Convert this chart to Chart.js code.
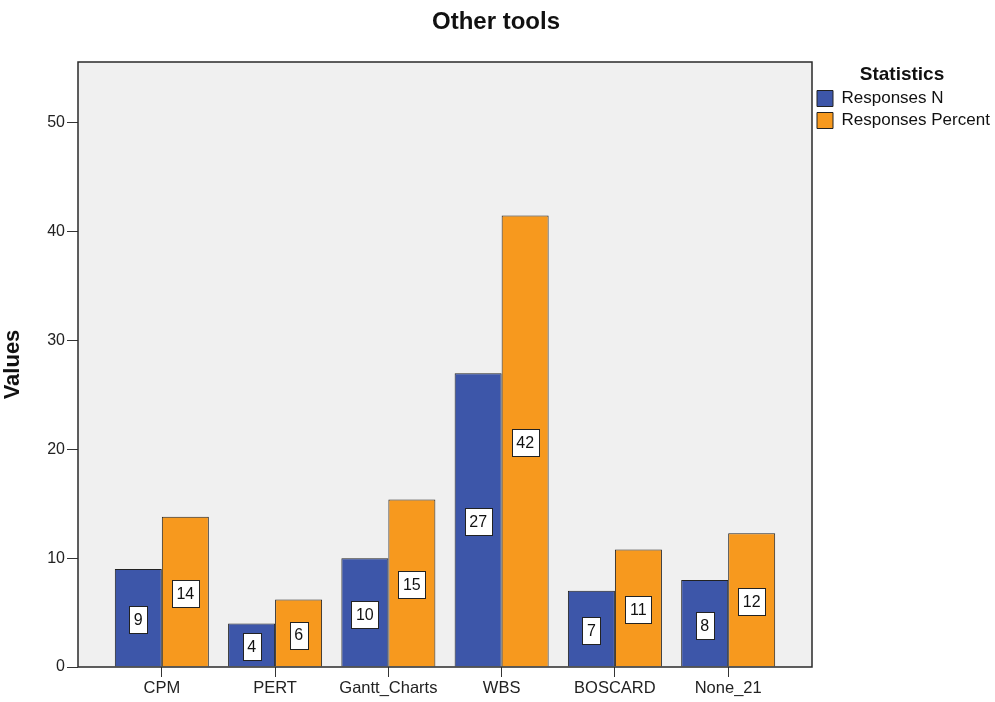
<!DOCTYPE html>
<html>
<head>
<meta charset="utf-8">
<script src="https://cdn.jsdelivr.net/npm/chart.js@4/dist/chart.umd.min.js"></script>
<style>
  html, body { margin: 0; padding: 0; background: #ffffff; }
  #wrap { width: 995px; height: 702px; }
</style>
</head>
<body>
<div id="wrap"><canvas id="c" width="995" height="702"></canvas></div>
<script>
// Tools and their response statistics
const categories = ['CPM', 'PERT', 'Gantt_Charts', 'WBS', 'BOSCARD', 'None_21'];
const responsesN = [9, 4, 10, 27, 7, 8];
const responsesPercent = [13.8, 6.2, 15.4, 41.5, 10.8, 12.3];
const seriesNames = ['Responses N', 'Responses Percent'];
const yTicks = [0, 10, 20, 30, 40, 50];

const FONT = "'Liberation Sans', Arial, sans-serif";

// Grey plot panel with a dark frame
const panelPlugin = {
  id: 'panel',
  beforeDatasetsDraw(chart) {
    const { ctx, chartArea: a } = chart;
    ctx.save();
    ctx.fillStyle = '#f0f0f0';
    ctx.fillRect(a.left, a.top, a.right - a.left, a.bottom - a.top);
    ctx.restore();
  },
  afterDatasetsDraw(chart) {
    const { ctx, chartArea: a } = chart;
    ctx.save();
    ctx.strokeStyle = '#2a2a2a';
    ctx.lineWidth = 1.5;
    ctx.strokeRect(Math.round(a.left), Math.round(a.top),
                   Math.round(a.right - a.left), Math.round(a.bottom - a.top));
    ctx.restore();
  }
};

// Boxed value labels in the middle of each bar
const valueLabelPlugin = {
  id: 'valueLabels',
  afterDatasetsDraw(chart) {
    const { ctx } = chart;
    ctx.save();
    ctx.font = '16px ' + FONT;
    ctx.textAlign = 'center';
    ctx.textBaseline = 'middle';
    chart.data.datasets.forEach((ds, di) => {
      const meta = chart.getDatasetMeta(di);
      meta.data.forEach((bar, i) => {
        const txt = Math.round(ds.data[i]).toString();
        const cx = bar.x;
        const cy = (bar.y + bar.base) / 2 + 2;
        const w = Math.round(ctx.measureText(txt).width + 9);
        const h = 27;
        const x0 = Math.round(cx - w / 2) + 0.5;
        const y0 = Math.round(cy - h / 2) + 0.5;
        ctx.fillStyle = '#ffffff';
        ctx.fillRect(x0, y0, w, h);
        ctx.strokeStyle = '#222222';
        ctx.lineWidth = 1;
        ctx.strokeRect(x0, y0, w, h);
        ctx.fillStyle = '#111111';
        ctx.fillText(txt, cx, cy + 1);
      });
    });
    ctx.restore();
  }
};

// Fixed legend width so the plot panel ends where it should
const legendWidthPlugin = {
  id: 'legendWidth',
  beforeLayout(chart) {
    const lg = chart.legend;
    if (lg && !lg._fixedFit) {
      const fit = lg.fit.bind(lg);
      lg.fit = function () {
        fit();
        this.width = 180;
      };
      lg._fixedFit = true;
    }
  }
};

new Chart(document.getElementById('c'), {
  type: 'bar',
  data: {
    labels: categories,
    datasets: [
      {
        label: seriesNames[0],
        data: responsesN,
        backgroundColor: '#3d56a9',
        borderColor: '#222222',
        borderWidth: 1,
        categoryPercentage: 0.83,
        barPercentage: 1.0
      },
      {
        label: seriesNames[1],
        data: responsesPercent,
        backgroundColor: '#f7991e',
        borderColor: '#222222',
        borderWidth: 1,
        categoryPercentage: 0.83,
        barPercentage: 1.0
      }
    ]
  },
  options: {
    responsive: false,
    animation: false,
    layout: { padding: { left: 0, right: 3, top: 0, bottom: 0 } },
    plugins: {
      title: {
        display: true,
        text: 'Other tools',
        color: '#111111',
        font: { family: FONT, size: 24, weight: 'bold', lineHeight: 1.2 },
        padding: { top: 8, bottom: 25.2 }
      },
      legend: {
        display: true,
        position: 'right',
        align: 'start',
        title: {
          display: true,
          text: 'Statistics',
          color: '#111111',
          font: { family: FONT, size: 19, weight: 'bold', lineHeight: 1.0 },
          padding: { top: 65, bottom: 1 }
        },
        labels: {
          boxWidth: 16,
          boxHeight: 16,
          padding: 5,
          color: '#111111',
          font: { family: FONT, size: 17 },
          generateLabels(chart) {
            return chart.data.datasets.map((ds, i) => ({
              text: ds.label,
              fillStyle: ds.backgroundColor,
              strokeStyle: '#222222',
              lineWidth: 1,
              datasetIndex: i,
              hidden: false
            }));
          }
        }
      },
      tooltip: { enabled: false }
    },
    scales: {
      x: {
        offset: true,
        afterBuildTicks(scale) {
          // widen the category range so the outer bars sit inset from the frame
          scale._startValue = -0.74;
          scale._valueRange = categories.length - 1 + 2 * 0.74;
        },
        afterFit(scale) { scale.height = 35; },
        grid: {
          display: true,
          offset: false,
          drawOnChartArea: false,
          drawTicks: true,
          tickLength: 10,
          color: '#333333',
          lineWidth: 1
        },
        border: { display: false },
        ticks: {
          color: '#222222',
          font: { family: FONT, size: 16.5 },
          padding: 2,
          maxRotation: 0,
          autoSkip: false
        }
      },
      y: {
        min: 0,
        max: 55.6,
        afterBuildTicks(scale) {
          scale.ticks = yTicks.map(v => ({ value: v }));
        },
        afterFit(scale) { scale.width = 78; },
        grid: {
          display: true,
          drawOnChartArea: false,
          drawTicks: true,
          tickLength: 11,
          color: '#333333',
          lineWidth: 1
        },
        border: { display: false },
        ticks: {
          color: '#222222',
          font: { family: FONT, size: 16 },
          padding: 2
        },
        title: {
          display: true,
          text: 'Values',
          color: '#111111',
          font: { family: FONT, size: 22, weight: 'bold' },
          padding: { top: 0, bottom: 0 }
        }
      }
    }
  },
  plugins: [panelPlugin, valueLabelPlugin, legendWidthPlugin]
});
</script>
</body>
</html>
